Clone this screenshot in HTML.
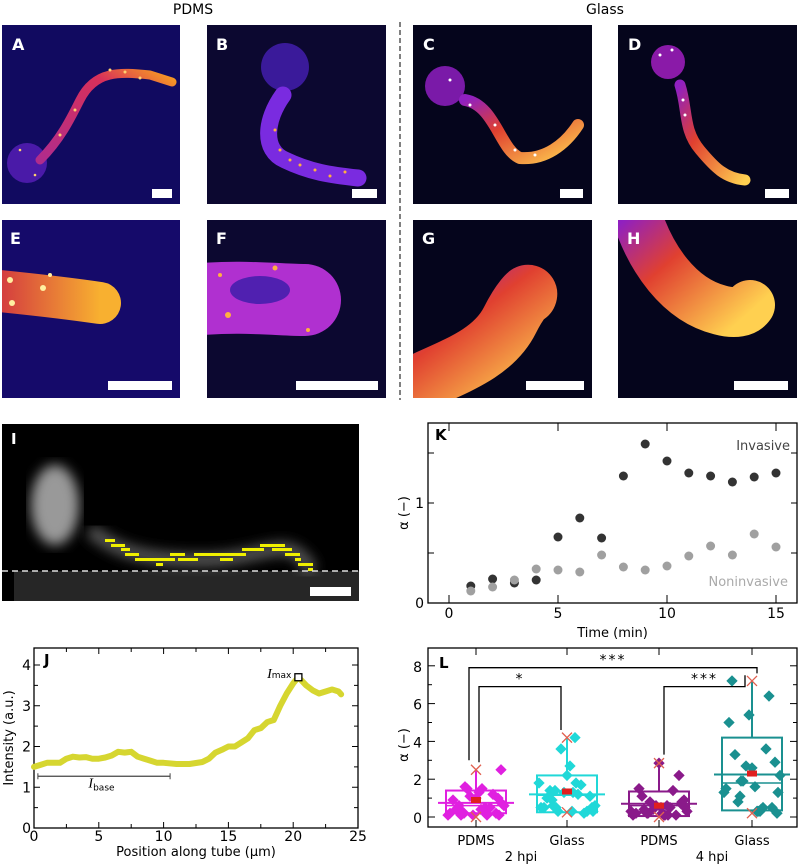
<!DOCTYPE html>
<html><head><meta charset="utf-8"><style>
html,body{margin:0;padding:0;background:#fff}
svg{display:block;font-family:"DejaVu Sans","Liberation Sans",sans-serif}
</style></head><body>
<svg id="fig" width="800" height="865" viewBox="0 0 800 865" xmlns="http://www.w3.org/2000/svg">
<defs>
<linearGradient id="gA" x1="0" y1="1" x2="1" y2="0"><stop offset="0" stop-color="#b02c8c"/><stop offset="0.7" stop-color="#d8305a"/><stop offset="1" stop-color="#f8a020"/></linearGradient>
<linearGradient id="gC" x1="0" y1="0" x2="1" y2="1"><stop offset="0" stop-color="#9020c0"/><stop offset="0.4" stop-color="#e04030"/><stop offset="1" stop-color="#ffd050"/></linearGradient>
<linearGradient id="gE" x1="0" y1="0" x2="1" y2="0"><stop offset="0" stop-color="#d03040"/><stop offset="1" stop-color="#f8b030"/></linearGradient>
<filter id="bl"><feGaussianBlur stdDeviation="6"/></filter>
<clipPath id="cA"><rect x="2" y="25" width="178" height="179"/></clipPath>
<clipPath id="cB"><rect x="207" y="25" width="179" height="179"/></clipPath>
<clipPath id="cC"><rect x="413" y="25" width="179" height="179"/></clipPath>
<clipPath id="cD"><rect x="618" y="25" width="179" height="179"/></clipPath>
<clipPath id="cE"><rect x="2" y="220" width="178" height="178"/></clipPath>
<clipPath id="cF"><rect x="207" y="220" width="179" height="178"/></clipPath>
<clipPath id="cG"><rect x="413" y="220" width="179" height="178"/></clipPath>
<clipPath id="cH"><rect x="618" y="220" width="179" height="178"/></clipPath>
<clipPath id="cI"><rect x="2" y="424" width="357" height="177"/></clipPath>
</defs>

<text x="193" y="14" font-size="14" text-anchor="middle">PDMS</text>
<text x="605" y="14" font-size="14" text-anchor="middle">Glass</text>
<line x1="400" y1="22" x2="400" y2="400" stroke="#000" stroke-dasharray="5,3"/>

<g clip-path="url(#cA)">
<rect x="2" y="25" width="178" height="179" fill="#110a60"/>
<circle cx="27" cy="163" r="20" fill="#4a1aa8"/>
<path d="M40 160 C60 140 70 120 80 100 C95 70 120 72 150 75 L172 82" fill="none" stroke="url(#gA)" stroke-width="9" stroke-linecap="round"/>
<g fill="#ffd070"><circle cx="60" cy="135" r="1.5"/><circle cx="75" cy="110" r="1.5"/><circle cx="110" cy="70" r="1.5"/><circle cx="125" cy="72" r="1.5"/><circle cx="140" cy="78" r="1.5"/><circle cx="20" cy="150" r="1.3"/><circle cx="35" cy="175" r="1.3"/></g>
<rect x="152" y="189" width="20" height="9" fill="#fff"/>
<text x="12" y="50" font-size="16" font-weight="bold" fill="#fff">A</text>
</g>
<g clip-path="url(#cB)">
<rect x="207" y="25" width="179" height="179" fill="#0c0830"/>
<circle cx="285" cy="67" r="24" fill="#3a1a9a"/>
<path d="M283 95 C265 120 262 150 285 160 C310 172 330 175 358 178" fill="none" stroke="#7a2be0" stroke-width="17" stroke-linecap="round"/>
<g fill="#ffb040"><circle cx="275" cy="130" r="1.5"/><circle cx="280" cy="150" r="1.5"/><circle cx="300" cy="165" r="1.5"/><circle cx="315" cy="170" r="1.5"/><circle cx="330" cy="176" r="1.5"/><circle cx="345" cy="172" r="1.5"/><circle cx="290" cy="160" r="1.5"/></g>
<rect x="352" y="189" width="25" height="9" fill="#fff"/>
<text x="216" y="50" font-size="16" font-weight="bold" fill="#fff">B</text>
</g>
<g clip-path="url(#cC)">
<rect x="413" y="25" width="179" height="179" fill="#05051c"/>
<circle cx="445" cy="86" r="20" fill="#7a1aa8"/>
<path d="M465 100 C495 105 500 150 520 158 C545 160 565 145 578 125" fill="none" stroke="url(#gC)" stroke-width="12" stroke-linecap="round"/>
<g fill="#fff"><circle cx="470" cy="105" r="1.5"/><circle cx="495" cy="125" r="1.5"/><circle cx="515" cy="150" r="1.5"/><circle cx="535" cy="155" r="1.5"/><circle cx="450" cy="80" r="1.5"/></g>
<rect x="560" y="189" width="23" height="9" fill="#fff"/>
<text x="423" y="50" font-size="16" font-weight="bold" fill="#fff">C</text>
</g>
<g clip-path="url(#cD)">
<rect x="618" y="25" width="179" height="179" fill="#05051c"/>
<circle cx="668" cy="62" r="17" fill="#8a1aa8"/>
<path d="M680 85 C688 110 683 130 700 150 C715 168 725 178 745 180" fill="none" stroke="url(#gC)" stroke-width="11" stroke-linecap="round"/>
<g fill="#fff"><circle cx="660" cy="55" r="1.5"/><circle cx="672" cy="50" r="1.5"/><circle cx="683" cy="100" r="1.5"/><circle cx="685" cy="115" r="1.5"/></g>
<rect x="765" y="189" width="24" height="9" fill="#fff"/>
<text x="628" y="50" font-size="16" font-weight="bold" fill="#fff">D</text>
</g>
<g clip-path="url(#cE)">
<rect x="2" y="220" width="178" height="178" fill="#150a6a"/>
<path d="M-10 290 C40 295 80 300 100 303" fill="none" stroke="url(#gE)" stroke-width="42" stroke-linecap="round"/>
<g fill="#fff0a0"><circle cx="10" cy="280" r="3"/><circle cx="43" cy="288" r="3"/><circle cx="12" cy="303" r="3"/><circle cx="50" cy="275" r="2"/></g>
<rect x="108" y="381" width="64" height="9" fill="#fff"/>
<text x="10" y="244" font-size="16" font-weight="bold" fill="#fff">E</text>
</g>
<g clip-path="url(#cF)">
<rect x="207" y="220" width="179" height="178" fill="#0c0830"/>
<path d="M190 300 C240 295 280 300 305 300" fill="none" stroke="#b030d0" stroke-width="72" stroke-linecap="round"/>
<ellipse cx="260" cy="290" rx="30" ry="14" fill="#5020b0"/>
<g fill="#ffb040"><circle cx="228" cy="315" r="3"/><circle cx="275" cy="268" r="2.5"/><circle cx="220" cy="275" r="2"/><circle cx="308" cy="330" r="2"/></g>
<rect x="296" y="381" width="82" height="9" fill="#fff"/>
<text x="216" y="244" font-size="16" font-weight="bold" fill="#fff">F</text>
</g>
<g clip-path="url(#cG)">
<rect x="413" y="220" width="179" height="178" fill="#05051c"/>
<path d="M395 395 C440 370 490 360 510 320 C520 300 530 290 528 295" fill="none" stroke="url(#gC)" stroke-width="58" stroke-linecap="round"/>
<rect x="526" y="381" width="58" height="9" fill="#fff"/>
<text x="422" y="244" font-size="16" font-weight="bold" fill="#fff">G</text>
</g>
<g clip-path="url(#cH)">
<rect x="618" y="220" width="179" height="178" fill="#05051c"/>
<path d="M635 210 C650 260 680 300 720 310 C735 314 745 312 750 305" fill="none" stroke="url(#gC)" stroke-width="50" stroke-linecap="round"/>
<rect x="734" y="381" width="54" height="9" fill="#fff"/>
<text x="627" y="244" font-size="16" font-weight="bold" fill="#fff">H</text>
</g>

<g clip-path="url(#cI)">
<rect x="2" y="424" width="357" height="177" fill="#000"/>
<rect x="14" y="571" width="345" height="30" fill="#262626"/>
<ellipse cx="55" cy="505" rx="24" ry="40" fill="#999" filter="url(#bl)"/>
<path d="M90 530 C110 545 130 560 200 560 C250 560 270 545 290 550 C305 555 310 570 312 572" fill="none" stroke="#555" stroke-width="14" filter="url(#bl)"/>
<g fill="#f0f000">
<rect x="105" y="539" width="10" height="3"/><rect x="111" y="544" width="14" height="3"/><rect x="121" y="548" width="9" height="3"/><rect x="125" y="553" width="14" height="3"/><rect x="135" y="558" width="40" height="3"/><rect x="156" y="563" width="7" height="3"/><rect x="170" y="553" width="15" height="3"/><rect x="178" y="558" width="20" height="3"/><rect x="194" y="553" width="52" height="3"/><rect x="220" y="558" width="13" height="3"/><rect x="242" y="548" width="22" height="3"/><rect x="260" y="544" width="25" height="3"/><rect x="272" y="548" width="20" height="3"/><rect x="285" y="553" width="15" height="3"/><rect x="295" y="558" width="6" height="3"/><rect x="298" y="563" width="15" height="3"/><rect x="308" y="568" width="5" height="3"/>
</g>
<line x1="2" y1="571" x2="359" y2="571" stroke="#ddd" stroke-width="1.5" stroke-dasharray="6,4"/>
<rect x="310" y="587" width="41" height="9" fill="#fff"/>
<text x="11" y="444" font-size="15" font-weight="bold" fill="#fff">I</text>
</g>

<g id="chartJ"></g>
<g id="chartK"></g>
<g id="chartL"></g>
</svg>
<script>
const NS='http://www.w3.org/2000/svg';
function mk(parent,tag,attrs,text){const e=document.createElementNS(NS,tag);for(const k in attrs)e.setAttribute(k,attrs[k]);if(text!==undefined)e.textContent=text;parent.appendChild(e);return e;}

const jPos=[0,0.5,1,1.5,2,2.5,3,3.5,4,4.5,5,5.5,6,6.5,7,7.5,8,8.5,9,9.5,10,11,12,13,13.5,14,14.5,15,15.5,16,16.5,17,17.5,18,18.5,19,19.5,20,20.4,21,21.5,22,22.5,23,23.5,23.7];
const jInt=[1.5,1.55,1.6,1.6,1.6,1.7,1.75,1.73,1.74,1.7,1.7,1.73,1.78,1.87,1.85,1.87,1.75,1.7,1.65,1.6,1.6,1.57,1.57,1.62,1.7,1.85,1.92,2.0,2.0,2.1,2.2,2.4,2.45,2.6,2.65,3.0,3.3,3.55,3.7,3.5,3.38,3.3,3.35,3.4,3.35,3.28];
const jXTicks=[0,5,10,15,20,25];
const jYTicks=[0,1,2,3,4];
(function(){
 const g=document.getElementById('chartJ');
 const L=34,R=358,T=648,B=828;
 const X=v=>L+v*(R-L)/25, Y=v=>B-v*40.75;
 const fr=mk(g,'rect',{x:L,y:T,width:R-L,height:B-T,fill:'none',stroke:'#000','stroke-width':1.3});
 
 for(let v=0;v<=25;v+=2.5){const big=v%5===0;mk(g,'line',{x1:X(v),x2:X(v),y1:B,y2:B-(big?6:4),stroke:'#000'});mk(g,'line',{x1:X(v),x2:X(v),y1:T,y2:T+(big?6:4),stroke:'#000'});}
 for(let v=0;v<=4.2;v+=0.5){const big=v%1===0;mk(g,'line',{x1:L,x2:L+(big?6:4),y1:Y(v),y2:Y(v),stroke:'#000'});mk(g,'line',{x1:R,x2:R-(big?6:4),y1:Y(v),y2:Y(v),stroke:'#000'});}
 jXTicks.forEach(v=>{const t=mk(g,'text',{x:X(v),y:B+13,'font-size':14,'text-anchor':'middle'},v);});
 jYTicks.forEach(v=>{const t=mk(g,'text',{x:L-3,y:Y(v)+5,'font-size':14,'text-anchor':'end'},v);});
 const xl=mk(g,'text',{x:(L+R)/2,y:856,'font-size':13,'text-anchor':'middle'},'Position along tube (µm)');
 
 const yl=mk(g,'text',{x:0,y:0,'font-size':13,'text-anchor':'middle',transform:'translate(13,738) rotate(-90)'},'Intensity (a.u.)');
 
 const pl=mk(g,'polyline',{points:jPos.map((p,i)=>X(p)+','+Y(jInt[i])).join(' '),fill:'none',stroke:'#d6d630','stroke-width':6,'stroke-linejoin':'round','stroke-linecap':'round'});
 
 const sq=mk(g,'rect',{x:X(20.4)-3.5,y:Y(3.7)-3.5,width:7,height:7,fill:'#fff',stroke:'#000','stroke-width':1.3});
 
 const im=mk(g,'text',{x:X(20.4)-7,y:Y(3.7)+1,'font-size':12,'text-anchor':'end','font-family':'Liberation Serif, serif'});
 
 im.innerHTML='<tspan font-style="italic" font-size="14">I</tspan><tspan font-size="9" font-family="DejaVu Sans">max</tspan>';
 mk(g,'line',{x1:X(0.3),x2:X(10.5),y1:Y(1.27),y2:Y(1.27),stroke:'#444','stroke-width':1.3});
 mk(g,'line',{x1:X(0.3),x2:X(0.3),y1:Y(1.27)-3,y2:Y(1.27)+3,stroke:'#444'});
 mk(g,'line',{x1:X(10.5),x2:X(10.5),y1:Y(1.27)-3,y2:Y(1.27)+3,stroke:'#444'});
 const ib=mk(g,'text',{x:X(4.2),y:Y(1.0),'font-size':12,'font-family':'Liberation Serif, serif'});
 
 ib.innerHTML='<tspan font-style="italic" font-size="14">I</tspan><tspan font-size="9" font-family="DejaVu Sans" dy="3">base</tspan>';
 const lab=mk(g,'text',{x:L+10,y:T+17,'font-size':15,'font-weight':'bold'},'J');
 
})();

const kTimes=[1,2,3,4,5,6,7,8,9,10,11,12,13,14,15];
const kInvasive=[0.17,0.24,0.20,0.23,0.66,0.85,0.65,1.27,1.59,1.42,1.30,1.27,1.21,1.26,1.30];
const kNoninvasive=[0.12,0.16,0.23,0.34,0.33,0.31,0.48,0.36,0.33,0.37,0.47,0.57,0.48,0.69,0.56];
const kXTicks=[0,5,10,15];
const kYTicks=[0,1];
(function(){
 const g=document.getElementById('chartK');
 const L=428,R=797,T=423,B=603;
 const X=v=>449+v*(776-449)/15, Y=v=>B-v*100;
 const fr=mk(g,'rect',{x:L,y:T,width:R-L,height:B-T,fill:'#fff',stroke:'#000','stroke-width':1.3});
 
 kXTicks.forEach(v=>{mk(g,'line',{x1:X(v),x2:X(v),y1:B,y2:B-8,stroke:'#000'});mk(g,'line',{x1:X(v),x2:X(v),y1:T,y2:T+8,stroke:'#000'});
  const t=mk(g,'text',{x:X(v),y:B+15,'font-size':14,'text-anchor':'middle'},v);});
 [0,0.5,1,1.5].forEach(v=>{mk(g,'line',{x1:L,x2:L+6,y1:Y(v),y2:Y(v),stroke:'#000'});mk(g,'line',{x1:R,x2:R-6,y1:Y(v),y2:Y(v),stroke:'#000'});});
 kYTicks.forEach(v=>{const t=mk(g,'text',{x:L-4,y:Y(v)+5,'font-size':14,'text-anchor':'end'},v);});
 const xl=mk(g,'text',{x:X(7.5),y:637,'font-size':13,'text-anchor':'middle'},'Time (min)');
 
 const yl=mk(g,'text',{x:0,y:0,'font-size':13,'text-anchor':'middle',transform:'translate(408,513) rotate(-90)'},'α (−)');
 
 kTimes.forEach((t,i)=>{
  const c=mk(g,'circle',{cx:X(t),cy:Y(kInvasive[i]),r:4.5,fill:'#333'});
  
  const d=mk(g,'circle',{cx:X(t),cy:Y(kNoninvasive[i]),r:4.5,fill:'#a0a0a0'});
  
 });
 const a=mk(g,'text',{x:790,y:450,'font-size':13,'text-anchor':'end',fill:'#444'},'Invasive');
 
 const b=mk(g,'text',{x:788,y:586,'font-size':13,'text-anchor':'end',fill:'#aaa'},'Noninvasive');
 
 const lab=mk(g,'text',{x:L+7,y:T+17,'font-size':15,'font-weight':'bold'},'K');
 
})();

const lGroups=['PDMS','Glass','PDMS','Glass'];
const lColors=['#e020e0','#20d8d8','#8a1a8a','#1a9090'];
const lQ1=[0.2,0.25,0.05,0.35];
const lQ3=[1.4,2.2,1.35,4.2];
const lMedian=[0.6,1.15,0.6,1.8];
const lMeanLine=[0.75,1.2,0.7,2.25];
const lMean=[0.9,1.35,0.6,2.3];
const lMax=[2.5,4.2,2.85,7.2];
const lMin=[0,0.25,0,0.2];
const lPoints=[
 [0.1,0.5,1.6,0.7,1.5,0.3,0.1,1.3,0.6,0.2,1.0,0.4,1.2,0.1,0.9,0.5,1.1,0.2,0.1,1.5,0.6,0.3,0.2,2.5,0.4,0.1,1.0],
 [1.8,1.8,0.5,0.3,1.3,0.6,1.1,2.7,1.4,0.3,2.2,1.0,0.2,1.3,0.5,1.7,3.6,0.5,1.2,0.3,0.6,4.2,1.4,0.5,0.3,0.9],
 [0.3,0.1,0.2,0.5,0.1,0.3,0.8,0.2,1.1,2.2,2.85,1.5,0.1,0.6,0.2,1.4,0.4,0.1,0.5,0.8,0.3,0.6,0.2,0.9,0.1,0.4,0.7,0.5],
 [1.3,0.4,1.9,1.3,0.3,0.8,2.9,1.6,3.3,0.5,2.6,7.2,6.4,5.4,5.0,3.6,2.7,1.5,0.5,1.9,2.2,0.3,1.1,0.2,0.3]
];
const lYTicks=[0,2,4,6,8];
(function(){
 const g=document.getElementById('chartL');
 const L=428,R=797,T=648,B=827;
 const cx=[476,567,659,752];
 const Y=v=>817-v*18.9;
 const fr=mk(g,'rect',{x:L,y:T,width:R-L,height:B-T,fill:'#fff',stroke:'#000','stroke-width':1.3});
 
 cx.forEach(x=>{mk(g,'line',{x1:x,x2:x,y1:B,y2:B-7,stroke:'#000'});mk(g,'line',{x1:x,x2:x,y1:T,y2:T+7,stroke:'#000'});});
 for(let v=0;v<=8;v++){const big=v%2===0;mk(g,'line',{x1:L,x2:L+(big?7:4),y1:Y(v),y2:Y(v),stroke:'#000'});mk(g,'line',{x1:R,x2:R-(big?7:4),y1:Y(v),y2:Y(v),stroke:'#000'});}
 lYTicks.forEach(v=>{const t=mk(g,'text',{x:L-6,y:Y(v)+6,'font-size':14,'text-anchor':'end'},v);});
 const yl=mk(g,'text',{x:0,y:0,'font-size':13,'text-anchor':'middle',transform:'translate(408,745) rotate(-90)'},'α (−)');
 
 lGroups.forEach((n,i)=>{
  const t=mk(g,'text',{x:cx[i],y:845,'font-size':13,'text-anchor':'middle'},n);
  
 });
 const h2=mk(g,'text',{x:521,y:861,'font-size':13,'text-anchor':'middle'},'2 hpi');
 const h4=mk(g,'text',{x:712,y:861,'font-size':13,'text-anchor':'middle'},'4 hpi');
 lGroups.forEach((n,i)=>{
  const c=lColors[i],x=cx[i];
  const wh=mk(g,'line',{x1:x,x2:x,y1:Y(lQ3[i]),y2:Y(lMax[i]),stroke:c,'stroke-width':2});
  
  const bx=mk(g,'rect',{x:x-30,y:Y(lQ3[i]),width:60,height:Y(lQ1[i])-Y(lQ3[i]),fill:'none',stroke:c,'stroke-width':2});
  
  mk(g,'line',{x1:x-30,x2:x+30,y1:Y(lMedian[i]),y2:Y(lMedian[i]),stroke:c,'stroke-width':1.5});
  const ml=mk(g,'line',{x1:x-38,x2:x+38,y1:Y(lMeanLine[i]),y2:Y(lMeanLine[i]),stroke:c,'stroke-width':2});
  
  lPoints[i].forEach((v,j)=>{
   const off=((j*37)%57)-28;
   const px=x+off,py=Y(v);
   const d=mk(g,'rect',{x:px-4,y:py-4,width:8,height:8,fill:c,transform:`rotate(45 ${px} ${py})`});
   
  });
  const mm=mk(g,'rect',{x:x-5,y:Y(lMean[i])-3,width:10,height:6,fill:'#e02020'});
  
  [lMax[i],lMin[i]].forEach(v=>{
   mk(g,'path',{d:`M${x-5} ${Y(v)-5}L${x+5} ${Y(v)+5}M${x+5} ${Y(v)-5}L${x-5} ${Y(v)+5}`,stroke:'#e06050','stroke-width':1.3});
  });
 });
 function br(x1,x2,yTop,y1,y2,label){
  const p=mk(g,'path',{d:`M${x1} ${Y(y1)}V${Y(yTop)}H${x2}V${Y(y2)}`,fill:'none',stroke:'#000','stroke-width':1.3});
  
  const t=mk(g,'text',{x:(x1+x2)/2,y:Y(yTop)-3,'font-size':14,'text-anchor':'middle','letter-spacing':'2'},label);
  
 }
 br(469,757,7.9,3.0,7.6,'***');
 br(479,561,6.9,2.9,4.6,'*');
 br(664,745,6.9,3.3,7.5,'***');
 const lab=mk(g,'text',{x:L+11,y:T+20,'font-size':15,'font-weight':'bold'},'L');
 
})();
</script>
</body></html>
